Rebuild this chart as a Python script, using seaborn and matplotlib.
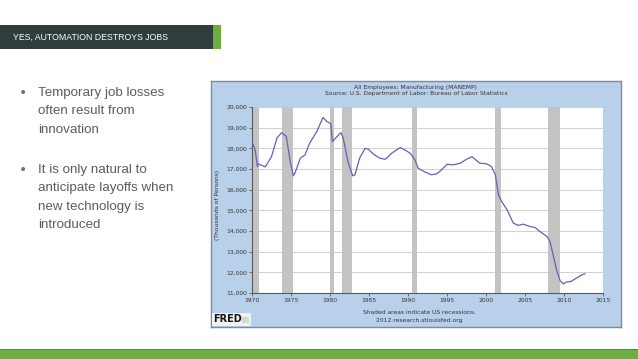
import matplotlib
matplotlib.use("Agg")
import matplotlib.pyplot as plt
from matplotlib.patches import Rectangle
from matplotlib.ticker import FuncFormatter
import seaborn as sns

# slide text
slide_title = "YES, AUTOMATION DESTROYS JOBS"
bullets = [["Temporary job losses", "often result from", "innovation"],
           ["It is only natural to", "anticipate layoffs when", "new technology is", "introduced"]]

# FRED chart text
chart_title = "All Employees: Manufacturing (MANEMP)"
chart_source = "Source: U.S. Department of Labor: Bureau of Labor Statistics"
y_label = "(Thousands of Persons)"
footer_lines = ["Shaded areas indicate US recessions.", "2012 research.stlouisfed.org"]

# manufacturing employment, thousands
years = [1970.0, 1970.4, 1970.7, 1970.8, 1971.7, 1972.5, 1973.2, 1973.8, 1974.4, 1974.9,
         1975.3, 1975.5, 1976.2, 1976.8, 1977.4, 1978.3, 1979.1, 1979.6, 1980.1, 1980.3,
         1980.9, 1981.4, 1981.7, 1982.3, 1982.9, 1983.2, 1983.8, 1984.5, 1984.9, 1985.6,
         1986.4, 1987.1, 1987.9, 1989.0, 1989.6, 1990.3, 1990.9, 1991.3, 1992.2, 1993.0,
         1993.7, 1994.3, 1995.0, 1995.8, 1996.7, 1997.5, 1998.2, 1998.6, 1999.2, 2000.1,
         2000.7, 2001.2, 2001.6, 2002.0, 2002.7, 2003.5, 2004.1, 2004.8, 2005.6, 2006.3,
         2006.9, 2007.8, 2008.2, 2008.6, 2009.1, 2009.5, 2009.9, 2010.3, 2010.9, 2011.6,
         2012.3, 2012.7]
employees = [18320, 17920, 17120, 17250, 17100, 17600, 18500, 18760, 18570, 17360,
             16670, 16800, 17530, 17680, 18260, 18810, 19490, 19300, 19200, 18320,
             18570, 18760, 18490, 17360, 16670, 16720, 17530, 18000, 17960, 17710,
             17520, 17470, 17760, 18040, 17920, 17760, 17440, 17040, 16850, 16720,
             16770, 16960, 17230, 17200, 17280, 17470, 17600, 17470, 17280, 17250,
             17120, 16720, 15750, 15430, 15030, 14380, 14270, 14330, 14220, 14170,
             13980, 13740, 13500, 12850, 12050, 11600, 11440, 11530, 11560, 11720,
             11880, 11930]

recession_start = [1969.92, 1973.88, 1980.0, 1981.5, 1990.5, 2001.17, 2007.92]
recession_end = [1970.88, 1975.2, 1980.5, 1982.88, 1991.17, 2001.88, 2009.5]

x_ticks = list(range(1970, 2016, 5))
y_ticks = list(range(11000, 20001, 1000))

sns.set_style("white")
narrow = ["Liberation Sans Narrow", "Liberation Sans", "DejaVu Sans"]

W, H = 638, 359
fig = plt.figure(figsize=(6.38, 3.59), dpi=100)
fig.patch.set_facecolor("white")


def box(x0, y0, x1, y1, **kw):
    # pixel coords with origin at top-left
    fig.add_artist(Rectangle((x0 / W, 1 - y1 / H), (x1 - x0) / W, (y1 - y0) / H,
                             transform=fig.transFigure, **kw))


def label(x, y, s, **kw):
    fig.text(x / W, 1 - y / H, s, **kw)


# header bar and bottom strip
box(0, 25, 213, 49, color="#2f3d3d", lw=0)
box(213, 25, 221, 49, color="#6cae3f", lw=0)
box(0, 349, 638, 359, color="#6cae3f", lw=0)
box(0, 349, 638, 350, color="#4f8f2c", lw=0)
label(13, 37.5, slide_title, color="white", fontsize=6.3, family=narrow, va="center")

# bullets
y = 92.7
for group in bullets:
    label(23, y, "\u2022", color="#707070", fontsize=10, va="center", ha="center")
    for line in group:
        label(38, y, line, color="#5c5c5c", fontsize=9.6, family=narrow, va="center")
        y += 18.5
    y += 21.5

# chart background
bg = fig.add_axes([211 / W, 1 - 327 / H, 410 / W, 246 / H])
bg.set_facecolor("#b9d0ea")
bg.set_xticks([])
bg.set_yticks([])
for sp in bg.spines.values():
    sp.set_color("#7d8c9c")
    sp.set_linewidth(1.0)

ax = fig.add_axes([252 / W, 1 - 293 / H, 351 / W, 186 / H])
ax.set_facecolor("white")
for s, e in zip(recession_start, recession_end):
    ax.axvspan(s, e, color="#c3c3c3", lw=0, zorder=1)
sns.lineplot(x=years, y=employees, ax=ax, color="#6262b8", lw=0.9, zorder=3)

ax.set_xlim(1970, 2015)
ax.set_ylim(11000, 20000)
ax.set_xticks(x_ticks)
ax.set_yticks(y_ticks)
ax.yaxis.set_major_formatter(FuncFormatter(lambda v, p: f"{int(v):,}"))
ax.yaxis.grid(True, color="#cfcfcf", lw=0.7)
ax.set_axisbelow(True)
ax.set_xlabel("")
ax.set_ylabel("")
for side in ["top", "right"]:
    ax.spines[side].set_visible(False)
for side in ["left", "bottom"]:
    ax.spines[side].set_color("#5a5a5a")
    ax.spines[side].set_linewidth(0.8)
ax.tick_params(labelsize=4.3, labelcolor="#333333", color="#5a5a5a", length=2,
               width=0.6, pad=1.5, left=True, bottom=True)

label(416, 87, chart_title, fontsize=4.3, color="#333333", ha="center", va="center")
label(416, 94, chart_source, fontsize=4.3, color="#333333", ha="center", va="center")
label(217, 205, y_label, fontsize=4.3, color="#333333", ha="center", va="center", rotation=90)
label(419, 313, footer_lines[0], fontsize=4.3, color="#333333", ha="center", va="center")
label(419, 320.5, footer_lines[1], fontsize=4.3, color="#333333", ha="center", va="center")

# FRED logo
box(212, 313, 251, 326, color="#f1f1f1", lw=0)
label(213.5, 319.5, "FRED", fontsize=7, weight="heavy", color="#151515",
      family=["DejaVu Sans"], va="center")
box(242, 317, 249, 323, color="#d3dcd3", lw=0)

fig.savefig("out.png", dpi=100)
